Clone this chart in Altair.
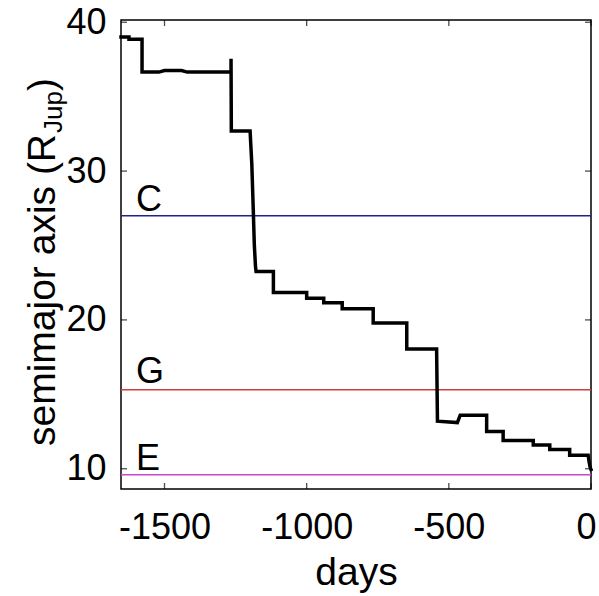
import altair as alt
import pandas as pd

FONT = "Liberation Sans"

# staircase track of the semimajor axis (vertices)
days = [-1653, -1625, -1625, -1579, -1579, -1520, -1500, -1440, -1420, -1266, -1266, -1265,
        -1259, -1199, -1193, -1188, -1184, -1180, -1178, -1117, -1117, -1000, -1000, -940,
        -940, -875, -875, -766, -766, -648, -648, -543, -540, -470, -466, -460, -367, -367,
        -309, -309, -203, -203, -145, -145, -75, -75, -10, -7, -3, 0]
semimajor = [39.0, 39.0, 38.85, 38.85, 36.65, 36.65, 36.75, 36.75, 36.65, 36.65, 37.55, 32.7,
             32.7, 32.7, 30.5, 27.5, 25.0, 23.6, 23.25, 23.25, 21.85, 21.85, 21.45, 21.45,
             21.15, 21.15, 20.75, 20.75, 19.8, 19.8, 18.05, 18.05, 13.2, 13.1, 13.3, 13.6, 13.6, 12.5,
             12.5, 11.9, 11.9, 11.6, 11.6, 11.3, 11.3, 10.9, 10.9, 10.5, 10.1, 9.95]

moon_names = ["C", "G", "E"]
moon_a = [27.0, 15.3, 9.6]
moon_colors = ["#22228c", "#d23c3c", "#c846c8"]
moon_label_day = [-1600, -1600, -1600]
moon_label_a = [27.35, 15.75, 9.9]

x_ticks = [-1500, -1000, -500, 0]
y_ticks = [10, 20, 30, 40]
X_MIN, X_MAX = -1653, 0
Y_MIN, Y_MAX = 8.64, 40.15

ylabel_parts = ["semimajor axis (R", "Jup", ")"]

track = pd.DataFrame({"day": days, "a": semimajor, "order": list(range(len(days)))})
moons = pd.DataFrame({"name": moon_names, "a": moon_a, "color": moon_colors,
                      "lday": moon_label_day, "la": moon_label_a})

xs = alt.Scale(domain=[X_MIN, X_MAX], nice=False, zero=False)
ys = alt.Scale(domain=[Y_MIN, Y_MAX], nice=False, zero=False)

x_axis = alt.Axis(values=x_ticks, ticks=False, tickSize=0, domain=False, grid=False,
                  labelExpr="(datum.value < 0 ? '-' : '') + abs(datum.value)",
                  labelOffset={"condition": {"test": "datum.value == 0", "value": -5}, "value": 0},
                  labelFontSize=36, labelFont=FONT, labelColor="black", labelPadding=21,
                  labelFlush=False, title="days", titleFontSize=39, titleFont=FONT,
                  titleFontWeight="normal", titleColor="black", titleBaseline="alphabetic",
                  titleY=95)
y_axis = alt.Axis(values=y_ticks, ticks=False, tickSize=0, domain=False, grid=False,
                  labelFontSize=36, labelFont=FONT, labelColor="black", labelPadding=15,
                  title=None)

base_line = alt.Chart(track).mark_line(color="black", strokeWidth=3.5, strokeJoin="miter",
                                       strokeCap="square").encode(
    x=alt.X("day:Q", scale=xs, axis=x_axis),
    y=alt.Y("a:Q", scale=ys, axis=y_axis),
    order="order:Q",
)

moon_rules = alt.Chart(moons).mark_rule(strokeWidth=1.5).encode(
    y=alt.Y("a:Q", scale=ys),
    color=alt.Color("color:N", scale=None),
)

moon_text = alt.Chart(moons).mark_text(align="left", baseline="alphabetic", fontSize=36,
                                       font=FONT, color="black").encode(
    x=alt.X("lday:Q", scale=xs),
    y=alt.Y("la:Q", scale=ys),
    text="name:N",
)

# inward frame ticks
xt = pd.DataFrame({"day": x_ticks, "ylo": [Y_MIN] * 4, "yhi": [Y_MAX] * 4})
yt = pd.DataFrame({"a": y_ticks, "xlo": [X_MIN] * 4, "xhi": [X_MAX] * 4})
tick_bottom = alt.Chart(xt).mark_tick(orient="vertical", size=6, thickness=1.3, yOffset=-3,
                                      color="black").encode(
    x=alt.X("day:Q", scale=xs), y=alt.Y("ylo:Q", scale=ys))
tick_top = alt.Chart(xt).mark_tick(orient="vertical", size=6, thickness=1.3, yOffset=3,
                                   color="black").encode(
    x=alt.X("day:Q", scale=xs), y=alt.Y("yhi:Q", scale=ys))
tick_left = alt.Chart(yt).mark_tick(orient="horizontal", size=6, thickness=1.3, xOffset=3,
                                    color="black").encode(
    x=alt.X("xlo:Q", scale=xs), y=alt.Y("a:Q", scale=ys))
tick_right = alt.Chart(yt).mark_tick(orient="horizontal", size=6, thickness=1.3, xOffset=-3,
                                     color="black").encode(
    x=alt.X("xhi:Q", scale=xs), y=alt.Y("a:Q", scale=ys))

# y-axis title with subscript (pixel positions relative to plot area)
t1 = alt.Chart(pd.DataFrame({"t": [ylabel_parts[0]]})).mark_text(
    angle=270, align="left", baseline="alphabetic", fontSize=39, font=FONT, color="black"
).encode(x=alt.value(-66), y=alt.value(426), text="t:N")
t2 = alt.Chart(pd.DataFrame({"t": [ylabel_parts[1]]})).mark_text(
    angle=270, align="left", baseline="alphabetic", fontSize=26, font=FONT, color="black"
).encode(x=alt.value(-59), y=alt.value(113), text="t:N")
t3 = alt.Chart(pd.DataFrame({"t": [ylabel_parts[2]]})).mark_text(
    angle=270, align="left", baseline="alphabetic", fontSize=39, font=FONT, color="black"
).encode(x=alt.value(-66), y=alt.value(71), text="t:N")

chart = alt.layer(
    moon_rules, base_line, moon_text, tick_bottom, tick_top, tick_left, tick_right, t1, t2, t3
).properties(
    width=470, height=469,
    padding={"left": 121, "top": 20, "right": 8, "bottom": 107},
    autosize="none",
    background="white",
).configure_view(stroke="black", strokeWidth=1.5)

chart.save("out.html", embed_options={"renderer": "svg", "actions": False})
